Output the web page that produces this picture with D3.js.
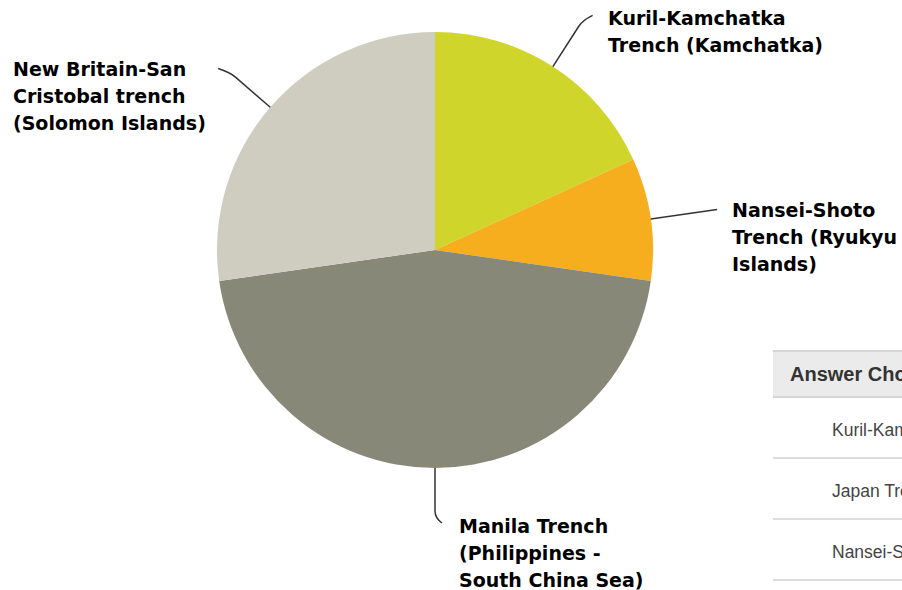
<!DOCTYPE html>
<html>
<head>
<meta charset="utf-8">
<script src="https://cdn.jsdelivr.net/npm/d3@7/dist/d3.min.js"></script>
<style>
  html, body { margin: 0; padding: 0; background: #fff; overflow: hidden; }
  svg { display: block; }
</style>
</head>
<body>
<svg id="chart" width="902" height="590"></svg>
<script>
// ---- data ----
const answers = [
  "Kuril-Kamchatka Trench (Kamchatka)",
  "Japan Trench (Japan)",
  "Nansei-Shoto Trench (Ryukyu Islands)",
  "Manila Trench (Philippines - South China Sea)",
  "New Britain-San Cristobal trench (Solomon Islands)"
];
const responses = [2, 0, 1, 5, 3];
const labelLines = [
  ["Kuril-Kamchatka", "Trench (Kamchatka)"],
  ["Japan Trench", "(Japan)"],
  ["Nansei-Shoto", "Trench (Ryukyu", "Islands)"],
  ["Manila Trench", "(Philippines -", "South China Sea)"],
  ["New Britain-San", "Cristobal trench", "(Solomon Islands)"]
];
const colors = ["#cfd52a", "#9aa5b1", "#f6ae1e", "#878878", "#cfcdbf"];
const tableHeader = "Answer Choices";
const tableRows = answers.slice(0, 3);

// ---- layout ----
const svg = d3.select("#chart");
const cx = 435, cy = 250, R = 218;
const lineH = 27;
// leader/label layout per slice index
const layout = {
  0: { ext: 55, tail: [10, -5], lx: 608, ly: 25 },
  2: { ext: 67, tail: [0, 0], lx: 732, ly: 217 },
  3: { ext: 50, tail: [7, 5], lx: 459, ly: 533 },
  4: { ext: 53, tail: [-12, -4], lx: 13, ly: 76 }
};

const pie = d3.pie().sort(null).value(d => d);
const arcs = pie(responses);
const arc = d3.arc().innerRadius(0).outerRadius(R);

const g = svg.append("g").attr("transform", `translate(${cx},${cy})`);
g.selectAll("path.slice")
  .data(arcs)
  .join("path")
  .attr("class", "slice")
  .attr("d", arc)
  .attr("fill", (d, i) => colors[i]);

// leader lines + labels
arcs.forEach((d, i) => {
  if (d.value === 0 || !layout[i]) return;
  const L = layout[i];
  const a = (d.startAngle + d.endAngle) / 2;
  const ux = Math.sin(a), uy = -Math.cos(a);
  const p0 = [ux * R, uy * R];
  const p1 = [ux * (R + L.ext), uy * (R + L.ext)];
  const p2 = [p1[0] + L.tail[0], p1[1] + L.tail[1]];
  let dPath;
  if (L.tail[0] === 0 && L.tail[1] === 0) {
    dPath = `M${p0}L${p1}`;
  } else {
    const pb = [ux * (R + L.ext - 7), uy * (R + L.ext - 7)];
    dPath = `M${p0}L${pb}Q${p1} ${p2}`;
  }
  g.append("path")
    .attr("d", dPath)
    .attr("fill", "none")
    .attr("stroke", "#333")
    .attr("stroke-width", 1.5);

  const t = svg.append("text")
    .attr("x", L.lx)
    .attr("y", L.ly)
    .attr("font-family", "'DejaVu Sans', Verdana, sans-serif")
    .attr("font-weight", "bold")
    .attr("font-size", 19)
    .attr("fill", "#000");
  labelLines[i].forEach((s, k) => {
    t.append("tspan").attr("x", L.lx).attr("y", L.ly + k * lineH).text(s);
  });
});

// ---- partial table on the right ----
const tx = 773, tTop = 351, headH = 46, rowH = 61;
const tbl = svg.append("g");
tbl.append("rect")
  .attr("x", tx).attr("y", tTop).attr("width", 902 - tx).attr("height", headH)
  .attr("fill", "#ebebeb");
tbl.append("rect")
  .attr("x", tx).attr("y", tTop - 1).attr("width", 902 - tx).attr("height", 2)
  .attr("fill", "#d6d6d6");
tbl.append("rect")
  .attr("x", tx).attr("y", tTop + headH - 1).attr("width", 902 - tx).attr("height", 2)
  .attr("fill", "#d6d6d6");
tbl.append("text")
  .attr("x", 790).attr("y", tTop + 30)
  .attr("font-family", "'Liberation Sans', Arial, sans-serif")
  .attr("font-weight", "bold")
  .attr("font-size", 20)
  .attr("fill", "#333")
  .text(tableHeader);
tableRows.forEach((s, k) => {
  const y0 = tTop + headH + k * rowH;
  tbl.append("text")
    .attr("x", 832).attr("y", y0 + 39)
    .attr("font-family", "'Liberation Sans', Arial, sans-serif")
    .attr("font-size", 17.5)
    .attr("fill", "#444")
    .text(s);
  tbl.append("rect")
    .attr("x", tx).attr("y", y0 + rowH - 1).attr("width", 902 - tx).attr("height", 2)
    .attr("fill", "#dcdcdc");
});
</script>
</body>
</html>
